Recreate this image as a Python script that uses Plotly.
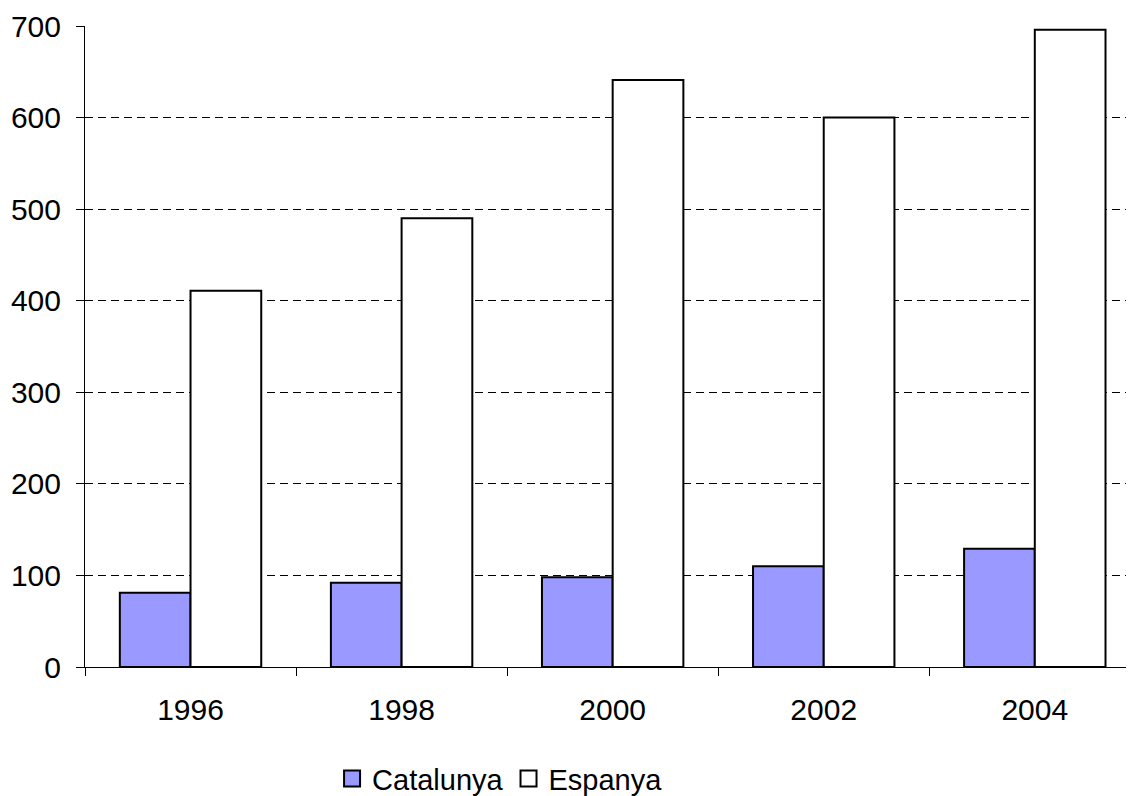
import plotly.graph_objects as go

years = ["1996", "1998", "2000", "2002", "2004"]
catalunya = [81, 92, 98, 110, 129]
espanya = [411, 490, 641, 600, 696]
y_ticks = [0, 100, 200, 300, 400, 500, 600, 700]

fig = go.Figure()
fig.add_trace(go.Bar(x=years, y=catalunya, name="Catalunya", showlegend=False,
                     marker=dict(color="#9999FF", line=dict(color="black", width=2))))
fig.add_trace(go.Bar(x=years, y=espanya, name="Espanya", showlegend=False,
                     marker=dict(color="white", line=dict(color="black", width=2))))
# legend entries with larger square swatches
fig.add_trace(go.Scatter(x=[None], y=[None], mode="markers", name="Catalunya",
                         marker=dict(symbol="square", size=20, color="#9999FF",
                                     line=dict(color="black", width=2))))
fig.add_trace(go.Scatter(x=[None], y=[None], mode="markers", name="Espanya",
                         marker=dict(symbol="square", size=20, color="white",
                                     line=dict(color="black", width=2))))

font = "Liberation Sans, Arial, sans-serif"
fig.update_layout(
    width=1126, height=788,
    margin=dict(l=77, r=0, t=18, b=129),
    paper_bgcolor="white", plot_bgcolor="white",
    barmode="group", bargap=0.33, bargroupgap=0,
    font=dict(family=font, size=29, color="black"),
    showlegend=True,
    legend=dict(orientation="h", xref="container", yref="container",
                x=0.437, xanchor="center", y=0.022, yanchor="middle",
                font=dict(size=29), itemwidth=30, tracegroupgap=0),
)
fig.update_xaxes(
    type="category", range=[-0.5, 4.47],
    showline=True, linecolor="black", linewidth=1,
    ticks="outside", tickson="boundaries", ticklen=8, tickcolor="black",
    showgrid=False, ticklabelstandoff=16, tickfont=dict(size=30), automargin=False,
)
fig.update_yaxes(
    range=[0, 700], tickvals=y_ticks, showline=True, linecolor="black", linewidth=1,
    ticks="outside", ticklen=8, tickcolor="black",
    showgrid=True, gridcolor="black", gridwidth=1, griddash="8px,5px",
    zeroline=False, ticklabelstandoff=9, tickfont=dict(size=30), automargin=False,
)
fig.write_html("out.html")
